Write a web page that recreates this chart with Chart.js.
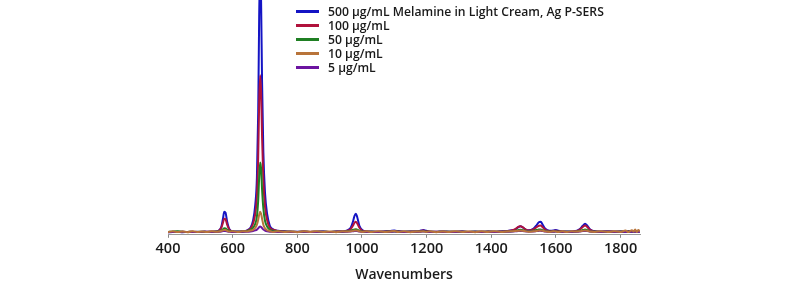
<!DOCTYPE html>
<html lang="en">
<head>
    <meta charset="UTF-8">
    <title>Melamine in Light Cream, Ag P-SERS</title>
    <script src="https://cdn.jsdelivr.net/npm/chart.js"></script>
    <style>
        body {
            margin: 0;
            background: #fff;
            font-family: 'Open Sans', sans-serif;
        }
        .wrap {
            position: relative;
            width: 800px;
            height: 293px;
        }
        .legend {
            position: absolute;
            left: 296px;
            top: 4px;
            font-size: 12.2px;
            font-weight: 600;
            color: #1a1a1a;
        }
        .legend-row {
            display: flex;
            align-items: center;
            height: 14px;
        }
        .legend-line {
            width: 23px;
            height: 3px;
            margin-right: 9px;
        }
    </style>
</head>
<body>
    <div class="wrap">
        <canvas id="spectra"></canvas>
        <div class="legend" id="legend"></div>
    </div>

    <script>
        // Raman shift grid (cm-1), denser around the peaks
        const wavenumbers = [
            400, 415, 430, 445, 460, 475, 490, 505, 520, 535, 550,
            558, 565, 570, 574, 578, 583, 590,
            600, 615, 630, 645, 655,
            663, 670, 675, 679, 682, 685, 688, 691, 695, 700, 707, 715,
            725, 740, 760, 780, 800, 820, 840, 860, 880, 900, 920, 940, 955,
            965, 972, 977, 981, 985, 992, 1002,
            1015, 1030, 1050, 1070, 1088, 1100, 1112, 1130, 1150, 1170,
            1182, 1190, 1198,
            1210, 1230, 1250, 1270, 1290, 1310, 1330, 1350, 1370, 1390, 1410, 1430, 1450, 1465,
            1475, 1483, 1490, 1497, 1505, 1515, 1530, 1540, 1547, 1553, 1559, 1567, 1580,
            1592, 1600, 1608,
            1620, 1635, 1650, 1665, 1675,
            1683, 1690, 1697, 1705,
            1720, 1740, 1760, 1780, 1800, 1815, 1825, 1835, 1840, 1845, 1850, 1855, 1860
        ];

        const ug500 = [
            0.5, 0.8, 1.0, 0.6, 0.9, 0.7, 1.0, 0.8, 1.1, 0.9, 1.2,
            2.5, 6, 14, 21, 20, 11, 3.5,
            1.5, 1.2, 1.5, 2.5, 5,
            12, 28, 55, 120, 215, 265, 230, 150, 80, 40, 18, 7,
            3.5, 2, 1.5, 1.2, 1.0, 1.3, 0.9, 1.1, 1.2, 0.8, 1.3, 1.5, 2.5,
            5, 11, 17, 19, 16, 7, 2.5,
            1.5, 1.2, 1.0, 1.3, 1.8, 2.2, 1.6, 1.1, 1.3, 1.4,
            2.2, 2.8, 2.0,
            1.2, 1.0, 1.4, 1.1, 1.0, 1.3, 0.9, 1.2, 1.0, 1.3, 1.1, 1.4, 1.8, 2.5,
            3.5, 5.5, 6.5, 5.5, 3.5, 2.5, 4, 7.5, 10.5, 11, 8, 4, 2,
            2.2, 2.8, 2,
            1.3, 1.2, 1.4, 2, 4,
            7, 9, 7, 3.5,
            1.5, 1.2, 1.4, 1.1, 1.3, 1.2, 1.5, 1.3, 1.6, 1.4, 1.8, 1.5, 1.7
        ];

        const ug100 = [
            0.6, 0.9, 0.7, 1.0, 0.8, 1.1, 0.7, 0.9, 1.0, 1.2, 1.1,
            2.2, 5, 10, 14, 13.5, 8, 3,
            1.4, 1.1, 1.4, 2.2, 4.2,
            9, 19, 36, 75, 130, 157, 140, 95, 52, 26, 12, 5,
            3, 1.8, 1.3, 1.1, 0.9, 1.2, 1.0, 1.0, 1.1, 0.9, 1.2, 1.3, 2.2,
            3.5, 7, 10, 11, 9.5, 5, 2,
            1.3, 1.1, 1.0, 1.2, 1.5, 1.8, 1.4, 1.0, 1.2, 1.3,
            1.8, 2.2, 1.7,
            1.1, 1.0, 1.2, 1.0, 1.1, 1.2, 1.0, 1.1, 1.0, 1.2, 1.0, 1.3, 1.7, 2.5,
            3.8, 5.8, 6.5, 5.6, 3.6, 2.3, 3.3, 5.5, 7, 7.2, 5.5, 3, 1.8,
            1.8, 2.1, 1.7,
            1.2, 1.1, 1.3, 1.8, 3.5,
            5.8, 7.2, 5.8, 3,
            1.4, 1.1, 1.3, 1.2, 1.1, 1.3, 1.4, 1.2, 1.5, 1.3, 1.6, 1.4, 1.5
        ];

        const ug50 = [
            0.8, 1.4, 1.6, 1.1, 0.9, 1.0, 0.8, 1.1, 0.9, 1.0, 1.2,
            1.5, 2.5, 3.5, 4.5, 4.3, 3, 1.8,
            1.2, 1.0, 1.2, 1.8, 3,
            5, 9, 16, 32, 55, 70, 64, 43, 24, 12, 6, 3,
            2, 1.4, 1.1, 1.0, 0.9, 1.0, 0.9, 1.0, 1.1, 0.8, 1.0, 1.2, 1.6,
            2, 2.8, 3.4, 3.6, 3.2, 2.2, 1.4,
            1.1, 1.0, 0.9, 1.1, 1.3, 1.4, 1.2, 1.0, 1.1, 1.2,
            1.4, 1.6, 1.3,
            1.0, 0.9, 1.1, 1.0, 1.0, 1.1, 0.9, 1.0, 1.0, 1.1, 1.0, 1.1, 1.3, 1.6,
            2, 2.6, 3, 2.6, 2, 1.6, 2, 2.7, 3.2, 3.3, 2.7, 1.9, 1.3,
            1.3, 1.5, 1.3,
            1.1, 1.0, 1.1, 1.4, 2,
            2.7, 3.2, 2.7, 1.6,
            1.2, 1.0, 1.1, 1.0, 1.2, 1.0, 1.3, 1.1, 1.2, 1.3, 1.4, 1.2, 1.3
        ];

        const ug10 = [
            0.9, 1.5, 0.7, 1.3, 0.6, 1.6, 0.8, 1.4, 0.7, 1.5, 1.0,
            1.3, 1.9, 2.4, 2.8, 2.7, 2.0, 1.2,
            1.6, 0.7, 1.5, 1.4, 2.2,
            3, 5, 8, 13, 18, 21, 19, 14, 8, 4.5, 2.5, 1.8,
            0.8, 1.6, 0.7, 1.4, 0.6, 1.5, 0.9, 1.6, 0.7, 1.3, 0.6, 1.5, 1.2,
            1.5, 1.9, 2.3, 2.4, 2.2, 1.6, 0.9,
            1.5, 0.7, 1.6, 0.8, 1.4, 1.7, 0.8, 1.5, 0.6, 1.4,
            1.2, 1.6, 0.8,
            1.5, 0.6, 1.4, 0.8, 1.6, 0.7, 1.3, 0.6, 1.5, 0.8, 1.6, 0.7, 1.4, 1.6,
            1.8, 2.0, 2.2, 2.0, 1.6, 1.1, 1.5, 1.9, 2.3, 2.4, 2.0, 1.4, 0.8,
            1.6, 1.3, 0.9,
            1.5, 0.7, 1.6, 1.2, 1.6,
            2.0, 2.4, 2.0, 1.2,
            0.8, 1.6, 0.7, 1.5, 0.9, 2.2, 0.8, 2.6, 1.2, 3.2, 0.9, 2.8, 1.5
        ];

        const ug5 = [
            0.7, 0.9, 0.8, 1.0, 0.7, 0.9, 0.8, 1.0, 0.9, 0.8, 1.0,
            1.1, 1.4, 1.7, 1.9, 1.8, 1.4, 1.0,
            0.9, 0.8, 0.9, 1.1, 1.4,
            1.8, 2.4, 3.2, 4.5, 5.6, 6.2, 5.8, 4.6, 3.2, 2.2, 1.5, 1.1,
            1.0, 0.9, 0.8, 0.9, 0.8, 1.0, 0.8, 0.9, 1.0, 0.8, 0.9, 1.0, 1.1,
            1.3, 1.6, 1.8, 1.9, 1.7, 1.3, 1.0,
            0.9, 0.8, 0.9, 1.0, 1.1, 1.2, 1.0, 0.9, 0.9, 1.0,
            1.1, 1.3, 1.1,
            0.9, 0.8, 0.9, 0.8, 0.9, 1.0, 0.8, 0.9, 0.8, 0.9, 0.8, 1.0, 1.1, 1.3,
            1.5, 1.8, 1.9, 1.8, 1.5, 1.2, 1.4, 1.7, 1.9, 2.0, 1.7, 1.3, 1.0,
            1.1, 1.2, 1.0,
            0.9, 0.8, 0.9, 1.1, 1.4,
            1.7, 1.9, 1.7, 1.2,
            1.0, 0.9, 1.0, 0.9, 1.0, 0.9, 1.1, 1.0, 1.1, 1.0, 1.2, 1.0, 1.1
        ];

        const seriesLabels = [
            '500 µg/mL Melamine in Light Cream, Ag P-SERS',
            '100 µg/mL',
            '50 µg/mL',
            '10 µg/mL',
            '5 µg/mL'
        ];
        const seriesValues = [ug500, ug100, ug50, ug10, ug5];
        const seriesColors = ['#1414c4', '#b0123c', '#1f7f23', '#b8743a', '#6c14a0'];
        // lower order is drawn on top; orange noise sits over the baseline
        const seriesOrder = [4, 3, 2, 0, 1];

        const xTicks = [400, 600, 800, 1000, 1200, 1400, 1600, 1800];

        const datasets = seriesValues.map((vals, i) => ({
            label: seriesLabels[i],
            data: wavenumbers.map((w, j) => ({ x: w, y: vals[j] })),
            borderColor: seriesColors[i],
            borderWidth: 2,
            pointRadius: 0,
            cubicInterpolationMode: 'monotone',
            fill: false,
            order: seriesOrder[i]
        }));

        new Chart(document.getElementById('spectra'), {
            type: 'line',
            data: { datasets },
            options: {
                responsive: true,
                maintainAspectRatio: false,
                animation: false,
                layout: {
                    padding: { left: 168, right: 160, top: 0, bottom: 10 }
                },
                plugins: {
                    legend: { display: false },
                    tooltip: { enabled: false }
                },
                scales: {
                    x: {
                        type: 'linear',
                        min: 400,
                        max: 1860,
                        afterBuildTicks: axis => {
                            axis.ticks = xTicks.map(v => ({ value: v }));
                        },
                        grid: {
                            drawOnChartArea: false,
                            drawTicks: true,
                            tickLength: 3,
                            color: '#888'
                        },
                        border: { color: '#999', width: 1 },
                        ticks: {
                            padding: 2,
                            color: '#1a1a1a',
                            font: { family: 'Open Sans', size: 14.5, weight: '600' },
                            callback: v => String(v)
                        },
                        title: {
                            display: true,
                            text: 'Wavenumbers',
                            color: '#1a1a1a',
                            padding: { top: 7, bottom: 0 },
                            font: { family: 'Open Sans', size: 14, weight: '600' }
                        }
                    },
                    y: {
                        display: false,
                        min: -2,
                        max: 232
                    }
                }
            }
        });

        // HTML legend built from the same arrays
        const legend = document.getElementById('legend');
        seriesLabels.forEach((label, i) => {
            const row = document.createElement('div');
            row.className = 'legend-row';
            const line = document.createElement('span');
            line.className = 'legend-line';
            line.style.background = seriesColors[i];
            const text = document.createElement('span');
            text.textContent = label;
            row.appendChild(line);
            row.appendChild(text);
            legend.appendChild(row);
        });
    </script>
</body>
</html>
